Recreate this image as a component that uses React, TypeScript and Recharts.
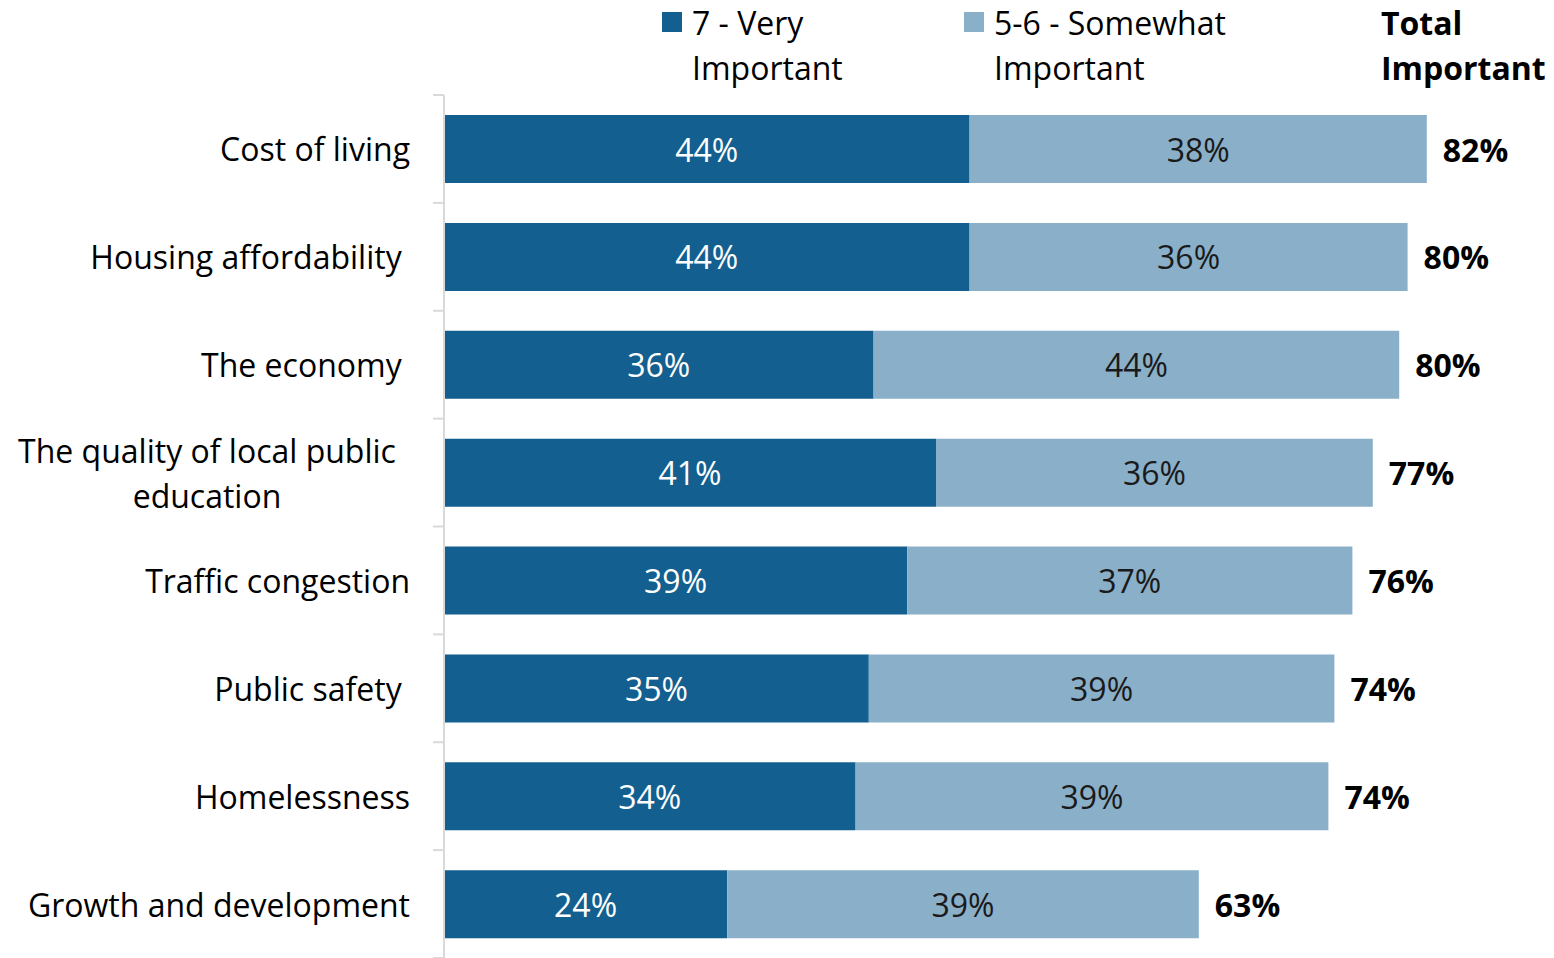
import { BarChart, Bar, XAxis, YAxis, LabelList } from "recharts";

const categories = [
  "Cost of living",
  "Housing affordability ",
  "The economy ",
  "The quality of local public\neducation",
  "Traffic congestion",
  "Public safety ",
  "Homelessness",
  "Growth and development",
];
const veryImportant = [43.8, 43.8, 35.8, 41.0, 38.6, 35.4, 34.3, 23.6];
const somewhatImportant = [38.1, 36.5, 43.8, 36.4, 37.1, 38.8, 39.4, 39.3];
const veryLabels = ["44%", "44%", "36%", "41%", "39%", "35%", "34%", "24%"];
const somewhatLabels = ["38%", "36%", "44%", "36%", "37%", "39%", "39%", "39%"];
const totalLabels = ["82%", "80%", "80%", "77%", "76%", "74%", "74%", "63%"];

const data = categories.map((name, i) => ({
  name,
  very: veryImportant[i],
  somewhat: somewhatImportant[i],
}));

const DARK = "#135f8f";
const LIGHT = "#8aafc8";
const FONT = "'Open Sans', sans-serif";
const FS = 32;
const TOP = 95;
const PLOT_H = 863;
const BAND = PLOT_H / categories.length;

const CategoryTick = (props: any) => {
  const { x, y, payload, index } = props;
  const lines = String(payload.value).split("\n");
  const top = y - BAND / 2;
  return (
    <g>
      <line x1={444} x2={433} y1={top} y2={top} stroke="#d9d9d9" strokeWidth={2} />
      {index === categories.length - 1 && (
        <line x1={444} x2={433} y1={top + BAND} y2={top + BAND} stroke="#d9d9d9" strokeWidth={2} />
      )}
      {lines.length === 1 ? (
        <text
          x={x - 26}
          y={y}
          textAnchor="end"
          dominantBaseline="central"
          fill="#000"
          fontSize={FS}
          fontFamily={FONT}
          style={{ whiteSpace: "pre" }}
        >
          {lines[0]}
        </text>
      ) : (
        lines.map((l, k) => (
          <text
            key={k}
            x={207}
            y={y + (k - (lines.length - 1) / 2) * 45}
            textAnchor="middle"
            dominantBaseline="central"
            fill="#000"
            fontSize={FS}
            fontFamily={FONT}
          >
            {l}
          </text>
        ))
      )}
    </g>
  );
};

const inner = (labels: string[], color: string) => (props: any) => {
  const { x, y, width, height, index } = props;
  return (
    <text
      x={x + width / 2}
      y={y + height / 2}
      textAnchor="middle"
      dominantBaseline="central"
      fill={color}
      fontSize={FS}
      fontFamily={FONT}
    >
      {labels[index]}
    </text>
  );
};

const totalLabel = (props: any) => {
  const { x, y, width, height, index } = props;
  return (
    <text
      x={x + width + 16}
      y={y + height / 2}
      textAnchor="start"
      dominantBaseline="central"
      fill="#000"
      fontSize={FS}
      fontWeight="bold"
      fontFamily={FONT}
    >
      {totalLabels[index]}
    </text>
  );
};

const LegendBox = () => {
  const txt: any = { position: "absolute", fontSize: FS, lineHeight: "45px", fontFamily: FONT, color: "#000", whiteSpace: "nowrap" };
  return (
    <div style={{ position: "absolute", left: 0, top: 0, width: 1554, height: 95 }}>
      <div style={{ position: "absolute", left: 662, top: 12, width: 20, height: 20, background: DARK }} />
      <div style={{ ...txt, left: 692, top: 0 }}>
        7 - Very
        <br />
        Important
      </div>
      <div style={{ position: "absolute", left: 964, top: 12, width: 20, height: 20, background: LIGHT }} />
      <div style={{ ...txt, left: 994, top: 0 }}>
        5-6 - Somewhat
        <br />
        Important
      </div>
      <div style={{ ...txt, left: 1381, top: 0, fontWeight: "bold" }}>
        Total
        <br />
        Important
      </div>
    </div>
  );
};

export default function App() {
  return (
    <div style={{ position: "absolute", left: 0, top: 0, width: 1554, height: 958, overflow: "hidden", background: "#fff" }}>
      <BarChart
        width={1554}
        height={TOP + PLOT_H + 10}
        data={data}
        layout="vertical"
        margin={{ top: TOP, right: 6, bottom: 10, left: 0 }}
        barSize={68}
      >
        <XAxis type="number" domain={[0, 92]} hide />
        <YAxis
          type="category"
          dataKey="name"
          width={444}
          axisLine={{ stroke: "#d9d9d9", strokeWidth: 2 }}
          tickLine={false}
          tick={<CategoryTick />}
          interval={0}
        />
        <Bar dataKey="very" stackId="a" fill={DARK} isAnimationActive={false}>
          <LabelList dataKey="very" content={inner(veryLabels, "#fff")} />
        </Bar>
        <Bar dataKey="somewhat" stackId="a" fill={LIGHT} isAnimationActive={false}>
          <LabelList dataKey="somewhat" content={inner(somewhatLabels, "#1a1a1a")} />
          <LabelList dataKey="somewhat" content={totalLabel} />
        </Bar>
      </BarChart>
      <LegendBox />
    </div>
  );
}
